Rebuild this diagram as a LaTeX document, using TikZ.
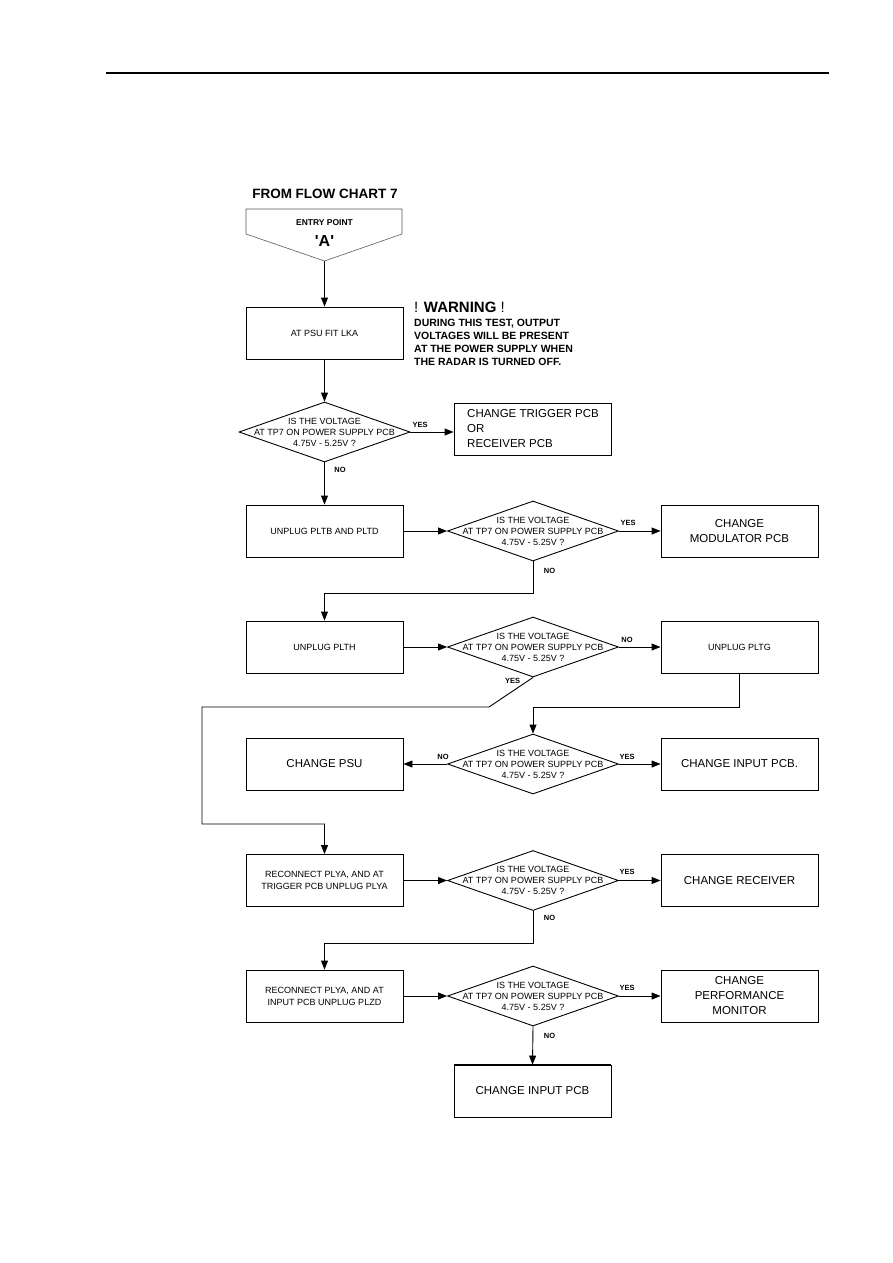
\documentclass[tikz,border=0pt]{standalone}
\usepackage{fontspec}
\setmainfont{Liberation Sans}
\usetikzlibrary{shapes.geometric,arrows.meta}
\newcommand\myqtext{IS THE VOLTAGE\\AT TP7 ON POWER SUPPLY PCB\\4.75V - 5.25V ?}
\begin{document}
\begin{tikzpicture}[x=1pt,y=-1pt,
 box/.style={draw,line width=0.9pt,minimum width=157pt,minimum height=52pt,inner sep=0pt,align=center,font=\fontsize{9}{12}\selectfont},
 bigbox/.style={box,font=\fontsize{11.5}{15}\selectfont},
 dia/.style={draw,shape=diamond,line width=0.9pt,minimum width=171pt,minimum height=60pt,inner sep=0pt},
 dtext/.style={align=center,font=\fontsize{9}{11}\selectfont,inner sep=0pt},
 lab/.style={font=\bfseries\fontsize{7.5}{9}\selectfont,inner sep=0pt},
 warn/.style={anchor=base west,inner sep=0pt,font=\bfseries\fontsize{10.5}{13}\selectfont},
 arr/.style={line width=0.9pt,-{Triangle[length=9pt,width=7pt]}},
 ln/.style={line width=0.9pt}]
\useasboundingbox (0,0) rectangle (893,1263);
% header rule
\draw[line width=1.2pt] (106,73) -- (829,73);

% title and entry point
\node[font=\bfseries\fontsize{13.5}{16}\selectfont,inner sep=0pt] (title) at (325,194) {FROM FLOW CHART 7};
\coordinate (e1) at (246,209);
\coordinate (e2) at (402,209);
\coordinate (e3) at (402,234);
\coordinate (apex) at (324.5,261);
\coordinate (e5) at (246,234);
\draw[line width=0.6pt,draw=black!65] (e1) -- (e2) -- (e3) -- (apex) -- (e5) -- cycle;
\node[font=\bfseries\fontsize{8.5}{10}\selectfont,inner sep=0pt] (ep) at (324.5,223) {ENTRY POINT};
\node[font=\bfseries\fontsize{16}{18}\selectfont,inner sep=0pt] (A) at (324.5,241) {\textquotesingle A\textquotesingle};

% box 1 and warning
\node[box] (b1) at (324.5,333) {AT PSU FIT LKA};
\node[anchor=west,inner sep=0pt,font=\fontsize{15}{17}\selectfont] (w0) at (414,307) {! \textbf{WARNING} !};
\node[warn] (w1) at (414,326.5) {DURING THIS TEST, OUTPUT};
\node[warn] (w2) at (414,339.5) {VOLTAGES WILL BE PRESENT};
\node[warn] (w3) at (414,352.5) {AT THE POWER SUPPLY WHEN};
\node[warn] (w4) at (414,365.5) {THE RADAR IS TURNED OFF.};
\draw[arr] (apex) -- (b1.north);

% diamond 1
\node[dia] (d1) at (324.5,432) {};
\node[dtext] (t1) at (d1.center) {\myqtext};
\node[box] (trig) at (532.5,429) {};
\node[anchor=west,align=left,inner sep=0pt,font=\fontsize{11.5}{15}\selectfont] (trigt) at (467,428.5) {CHANGE TRIGGER PCB\\OR\\RECEIVER PCB};
\draw[arr] (b1.south) -- (d1.north);
\draw[arr] (d1.east) -- (d1.east -| trig.west);
\node[lab] (y1) at (420,424.5) {YES};
\node[lab] (n1) at (340,470) {NO};

% row 2
\node[box] (b2) at (324.5,531) {UNPLUG PLTB AND PLTD};
\node[dia] (d2) at (533,531) {};
\node[dtext] (t2) at (d2.center) {\myqtext};
\node[bigbox] (mod) at (739.5,531) {CHANGE\\MODULATOR PCB};
\draw[arr] (d1.south) -- (b2.north);
\draw[arr] (b2.east) -- (d2.west);
\draw[arr] (d2.east) -- (mod.west);
\node[lab] (y2) at (628,523) {YES};
\node[lab] (n2) at (549.5,570.5) {NO};

% row 3
\node[box] (b3) at (324.5,647) {UNPLUG PLTH};
\node[dia] (d3) at (533,647) {};
\node[dtext] (t3) at (d3.center) {\myqtext};
\node[box] (b4) at (739.5,647) {UNPLUG PLTG};
\draw[arr] (d2.south) -- ++(0,32) -| (b3.north);
\draw[arr] (b3.east) -- (d3.west);
\draw[arr] (d3.east) -- (b4.west);
\node[lab] (n3) at (627,640) {NO};
\node[lab] (y3) at (512.5,681) {YES};

% row 4
\node[bigbox] (psu) at (324.5,764) {CHANGE PSU};
\node[dia] (d4) at (533,764) {};
\node[dtext] (t4) at (d4.center) {\myqtext};
\node[bigbox] (inp) at (739.5,764) {CHANGE INPUT PCB.};
\draw[arr] (b4.south) -- ++(0,34) -| (d4.north);
\draw[arr] (d4.west) -- (psu.east);
\draw[arr] (d4.east) -- (inp.west);
\node[lab] (n4) at (443,756.5) {NO};
\node[lab] (y4) at (627,756.5) {YES};

% row 5
\node[box] (b5) at (324.5,880.5) {RECONNECT PLYA, AND AT\\TRIGGER PCB UNPLUG PLYA};
\node[dia] (d5) at (533,880.5) {};
\node[dtext] (t5) at (d5.center) {\myqtext};
\node[bigbox] (rec) at (739.5,880.5) {CHANGE RECEIVER};
\coordinate (c1) at (489,707);
\coordinate (c2) at (202,707);
\coordinate (c3) at (202,824);
\draw[arr] (d3.south) -- (c1) -- (c2) -- (c3) -| (b5.north);
\draw[arr] (b5.east) -- (d5.west);
\draw[arr] (d5.east) -- (rec.west);
\node[lab] (y5) at (627,872) {YES};
\node[lab] (n5) at (549.5,917.5) {NO};

% row 6
\node[box] (b6) at (324.5,996) {RECONNECT PLYA, AND AT\\INPUT PCB UNPLUG PLZD};
\node[dia] (d6) at (533,996) {};
\node[dtext] (t6) at (d6.center) {\myqtext};
\node[bigbox] (perf) at (739.5,996) {CHANGE\\PERFORMANCE\\MONITOR};
\draw[arr] (d5.south) -- ++(0,32) -| (b6.north);
\draw[arr] (b6.east) -- (d6.west);
\draw[arr] (d6.east) -- (perf.west);
\node[lab] (y6) at (627,988) {YES};
\node[lab] (n6) at (549.5,1036) {NO};

% final box
\node[bigbox] (b7) at (532.5,1091) {CHANGE INPUT PCB};
\draw[line width=1.8pt] (b7.north west) -- (b7.north east);
\draw[arr] (d6.south) -- (b7.north);
\end{tikzpicture}
\end{document}
